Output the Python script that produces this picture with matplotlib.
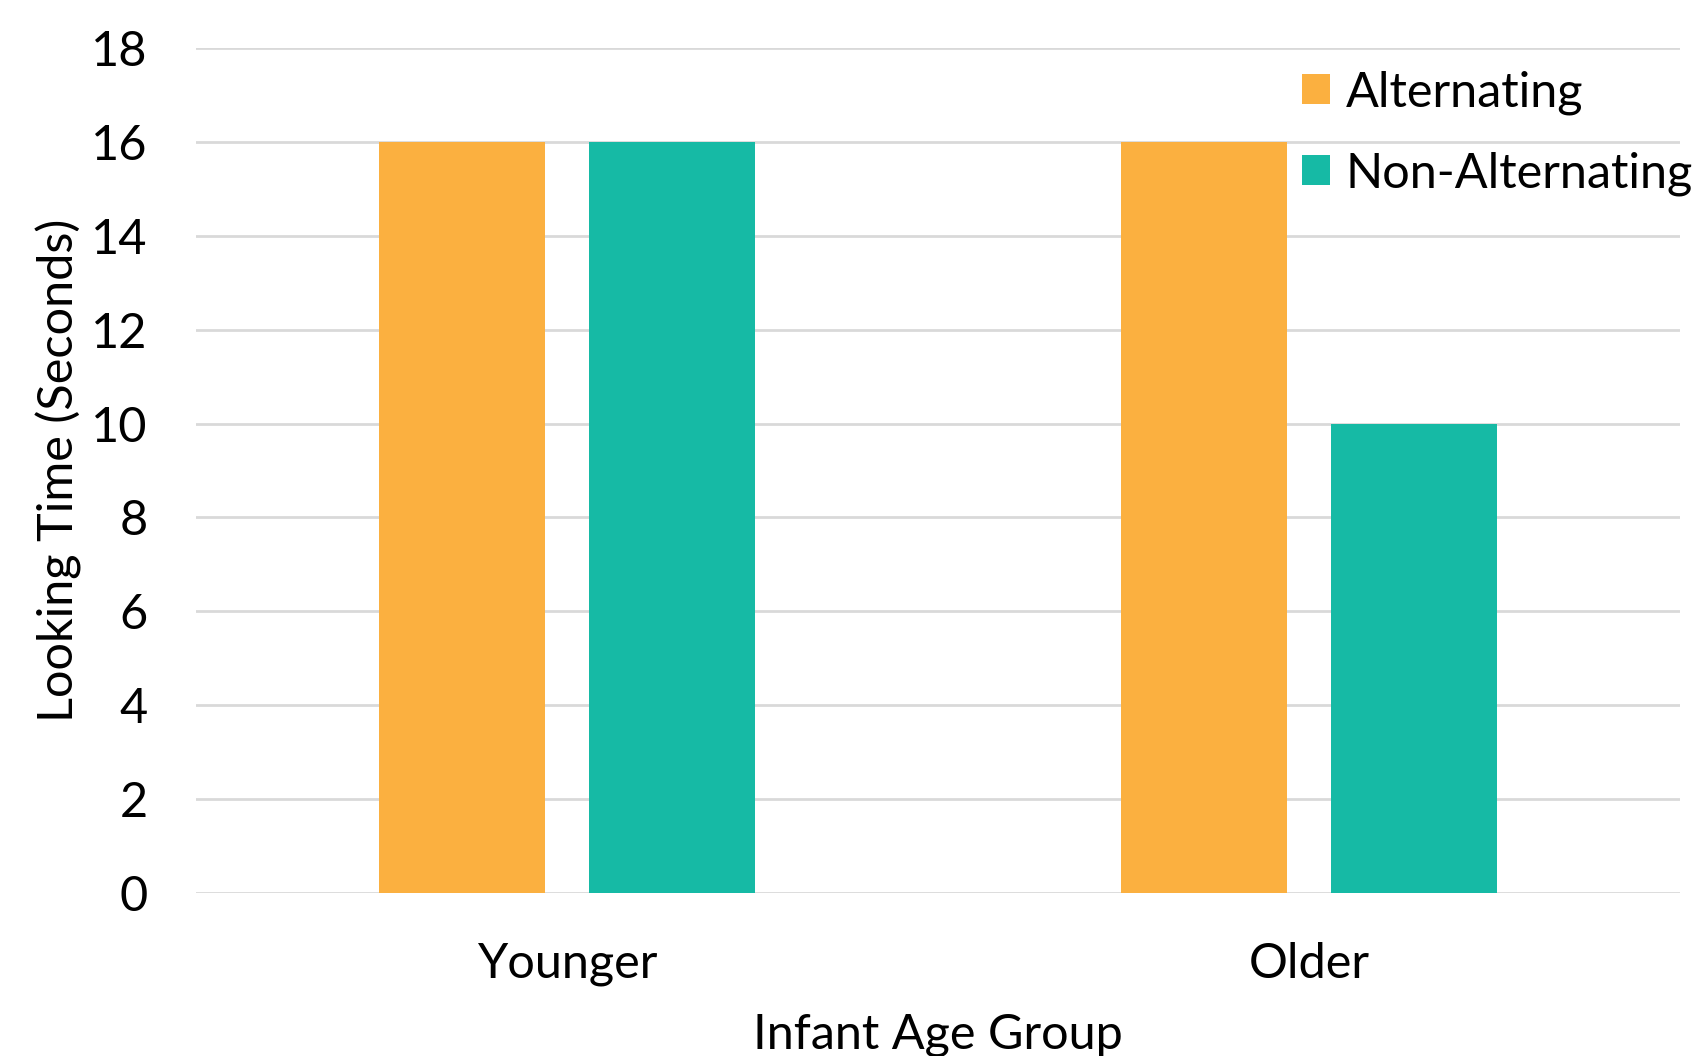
import numpy as np
import matplotlib
matplotlib.use("Agg")
import matplotlib.pyplot as plt

plt.rcParams['font.family'] = ['Lato', 'DejaVu Sans']

groups = ["Younger", "Older"]
series = ["Alternating", "Non-Alternating"]
alternating = [16, 16]
non_alternating = [16, 10]
yticks = [0, 2, 4, 6, 8, 10, 12, 14, 16, 18]

colors = ["#FBB040", "#16BAA5"]
fs = 35

fig = plt.figure(figsize=(16.99, 10.56), dpi=100)
ax = fig.add_axes([0.1154, 0.1544, 0.8734, 0.8001])

x = np.arange(len(groups))
w = 0.224
off = 0.142
b1 = ax.bar(x - off, alternating, w, color=colors[0], label=series[0], zorder=3)
b2 = ax.bar(x + off, non_alternating, w, color=colors[1], label=series[1], zorder=3)

ax.set_xlim(-0.5, 1.5)
ax.set_ylim(0, 18)
ax.set_yticks(yticks)
ax.set_xticks(x)
ax.set_xticklabels(groups)
ax.grid(axis='y', color='#D9D9D9', linewidth=2, zorder=0)
for s in ax.spines.values():
    s.set_visible(False)
ax.tick_params(length=0, labelsize=fs)
ax.tick_params(axis='y', pad=35)
ax.tick_params(axis='x', pad=35)

ax.set_ylabel("Looking Time (Seconds)", fontsize=fs, labelpad=6.5)
ax.set_xlabel("Infant Age Group", fontsize=fs, labelpad=20)

fig.legend(handles=[b1, b2], loc='upper left', bbox_to_anchor=(0.755, 0.952),
           frameon=False, fontsize=fs, handlelength=0.57, handleheight=0.57,
           handletextpad=0.33, labelspacing=0.75, borderaxespad=0)

fig.savefig("out.png", dpi=100)
